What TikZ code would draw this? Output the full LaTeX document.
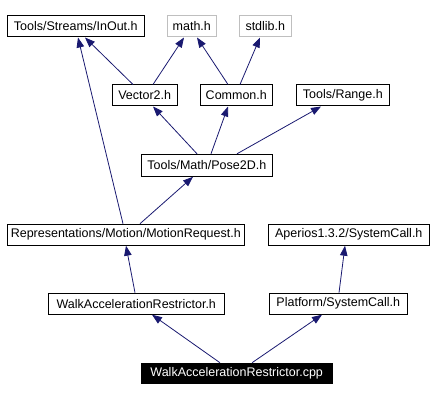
\documentclass[tikz,border=0pt]{standalone}
\usepackage{fontspec}
\setmainfont{Liberation Sans}
\usetikzlibrary{arrows.meta}
\definecolor{edgeblue}{HTML}{191970}
\definecolor{extgray}{HTML}{BFBFBF}
\begin{document}
\begin{tikzpicture}[x=1pt,y=-1pt,
  file/.style={draw=black,line width=1pt,inner sep=0pt,minimum height=21pt,font=\fontsize{12.5}{14}\selectfont},
  extfile/.style={file,draw=extgray},
  mainfile/.style={file,fill=black,text=white,minimum height=20.5pt},
  dep/.style={draw=edgeblue,line width=0.8pt,-{Triangle[width=7.5pt,length=10pt]}}]
\useasboundingbox (0,0) rectangle (433,401);
\node[file,minimum width=137pt] (inout) at (75.8,26.5) {Tools/Streams/InOut.h};
\node[extfile,minimum width=49pt] (math) at (191.8,26.5) {math.h};
\node[extfile,minimum width=52pt] (stdlib) at (265.3,26.5) {stdlib.h};
\node[file,minimum width=65pt] (vector2) at (144.7,95.5) {Vector2.h};
\node[file,minimum width=72pt] (common) at (236.3,95.5) {Common.h};
\node[file,minimum width=93pt] (range) at (342.8,95.5) {Tools/Range.h};
\node[file,minimum width=131pt,minimum height=22pt] (pose) at (206.8,165.3) {Tools/Math/Pose2D.h};
\node[file,minimum width=237pt] (motion) at (125.8,234.7) {Representations/Motion/MotionRequest.h};
\node[file,minimum width=161pt] (aperios) at (348.8,234.7) {Aperios1.3.2/SystemCall.h};
\node[file,minimum width=176pt] (warh) at (136.3,303.7) {WalkAccelerationRestrictor.h};
\node[file,minimum width=138pt] (platform) at (338.3,303.7) {Platform/SystemCall.h};
\node[mainfile,minimum width=191pt] (cpp) at (236.7,373.5) {WalkAccelerationRestrictor.cpp};

\draw[dep] ([xshift=-11.7pt]vector2.north) -- ([xshift=9.2pt]inout.south);
\draw[dep] ([xshift=-2.8pt]motion.north) -- ([xshift=2.2pt]inout.south);
\draw[dep] ([xshift=8.3pt]vector2.north) -- ([xshift=-7.8pt]math.south);
\draw[dep] ([xshift=-8.3pt]common.north) -- ([xshift=5.2pt]math.south);
\draw[dep] ([xshift=3.7pt]common.north) -- ([xshift=-5.3pt]stdlib.south);
\draw[dep] ([xshift=-9.8pt]pose.north) -- ([xshift=8.3pt]vector2.south);
\draw[dep] ([xshift=4.2pt]pose.north) -- ([xshift=-8.3pt]common.south);
\draw[dep] ([xshift=30.2pt]pose.north) -- ([xshift=-21.8pt]range.south);
\draw[dep] ([xshift=14.2pt]motion.north) -- ([xshift=-13.8pt]pose.south);
\draw[dep] ([xshift=-1.3pt]warh.north) -- ([xshift=0.2pt]motion.south);
\draw[dep] ([xshift=0.7pt]platform.north) -- ([xshift=-3.8pt]aperios.south);
\draw[dep] ([xshift=-16.7pt]cpp.north) -- ([xshift=15.7pt]warh.south);
\draw[dep] ([xshift=15.3pt]cpp.north) -- ([xshift=-16.3pt]platform.south);
\end{tikzpicture}
\end{document}
